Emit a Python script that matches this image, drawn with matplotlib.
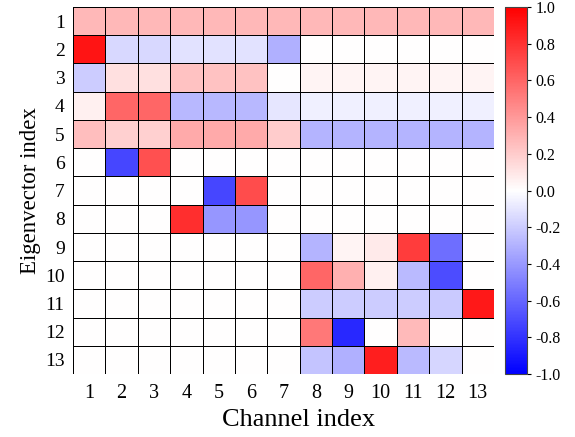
import matplotlib
matplotlib.use("Agg")
import matplotlib.pyplot as plt
import numpy as np

plt.rcParams['font.family'] = ['Liberation Serif', 'DejaVu Serif']
plt.rcParams['axes.unicode_minus'] = False

channels = list(range(1, 14))
eigenvectors = list(range(1, 14))

# eigenvector components, rows = eigenvector index, cols = channel index
values = [
    [0.28, 0.28, 0.28, 0.28, 0.28, 0.28, 0.28, 0.28, 0.28, 0.28, 0.28, 0.28, 0.28],
    [0.92, -0.15, -0.15, -0.11, -0.11, -0.11, -0.31, 0.0, 0.0, 0.0, 0.0, 0.0, 0.0],
    [-0.20, 0.12, 0.12, 0.24, 0.24, 0.24, 0.0, 0.04, 0.04, 0.04, 0.04, 0.04, 0.04],
    [0.06, 0.60, 0.60, -0.28, -0.28, -0.28, -0.10, -0.06, -0.06, -0.06, -0.06, -0.06, -0.06],
    [0.25, 0.18, 0.18, 0.33, 0.33, 0.33, 0.20, -0.29, -0.29, -0.29, -0.29, -0.29, -0.29],
    [0.0, -0.72, 0.68, 0.0, 0.0, 0.0, 0.0, 0.0, 0.0, 0.0, 0.0, 0.0, 0.0],
    [0.0, 0.0, 0.0, 0.0, -0.72, 0.70, 0.0, 0.0, 0.0, 0.0, 0.0, 0.0, 0.0],
    [0.0, 0.0, 0.0, 0.82, -0.41, -0.41, 0.0, 0.0, 0.0, 0.0, 0.0, 0.0, 0.0],
    [0.0, 0.0, 0.0, 0.0, 0.0, 0.0, 0.0, -0.29, 0.04, 0.08, 0.76, -0.57, 0.0],
    [0.0, 0.0, 0.0, 0.0, 0.0, 0.0, 0.0, 0.60, 0.31, 0.06, -0.27, -0.70, 0.0],
    [0.0, 0.0, 0.0, 0.0, 0.0, 0.0, 0.0, -0.20, -0.20, -0.20, -0.20, -0.21, 0.90],
    [0.0, 0.0, 0.0, 0.0, 0.0, 0.0, 0.0, 0.53, -0.84, 0.0, 0.27, 0.0, 0.0],
    [0.0, 0.0, 0.0, 0.0, 0.0, 0.0, 0.0, -0.23, -0.31, 0.88, -0.27, -0.16, 0.0],
]

fig = plt.figure(figsize=(5.75, 4.37), dpi=100)
ax = fig.add_axes([0.127, 0.144, 0.732, 0.840])
cax = fig.add_axes([0.878, 0.144, 0.038, 0.840])

data = np.array(values)
x_edges = np.arange(len(channels) + 1) + 0.5
y_edges = np.arange(len(eigenvectors) + 1) + 0.5
mesh = ax.pcolormesh(x_edges, y_edges, data, cmap="bwr", vmin=-1, vmax=1,
                     edgecolors="black", linewidth=0.7)
ax.set_xlim(0.5, 13.5)
ax.set_ylim(13.5, 0.5)
ax.set_xticks(channels)
ax.set_yticks(eigenvectors)
ax.tick_params(axis="x", length=0, labelsize=14.5, pad=7)
ax.tick_params(axis="y", length=0, labelsize=14, pad=6)
for s in ax.spines.values():
    s.set_visible(False)
ax.set_xlabel("Channel index", fontsize=19)
ax.xaxis.set_label_coords(0.537, -0.095)
ax.set_ylabel("Eigenvector index", fontsize=16.5, labelpad=3)

cb = fig.colorbar(mesh, cax=cax, ticks=np.linspace(-1, 1, 11))
cb.ax.set_yticklabels([f"{t:.1f}" for t in np.linspace(-1, 1, 11)])
cb.ax.tick_params(labelsize=11.5, length=3)
cb.outline.set_edgecolor("#444444")

fig.savefig("out.png", dpi=100)
